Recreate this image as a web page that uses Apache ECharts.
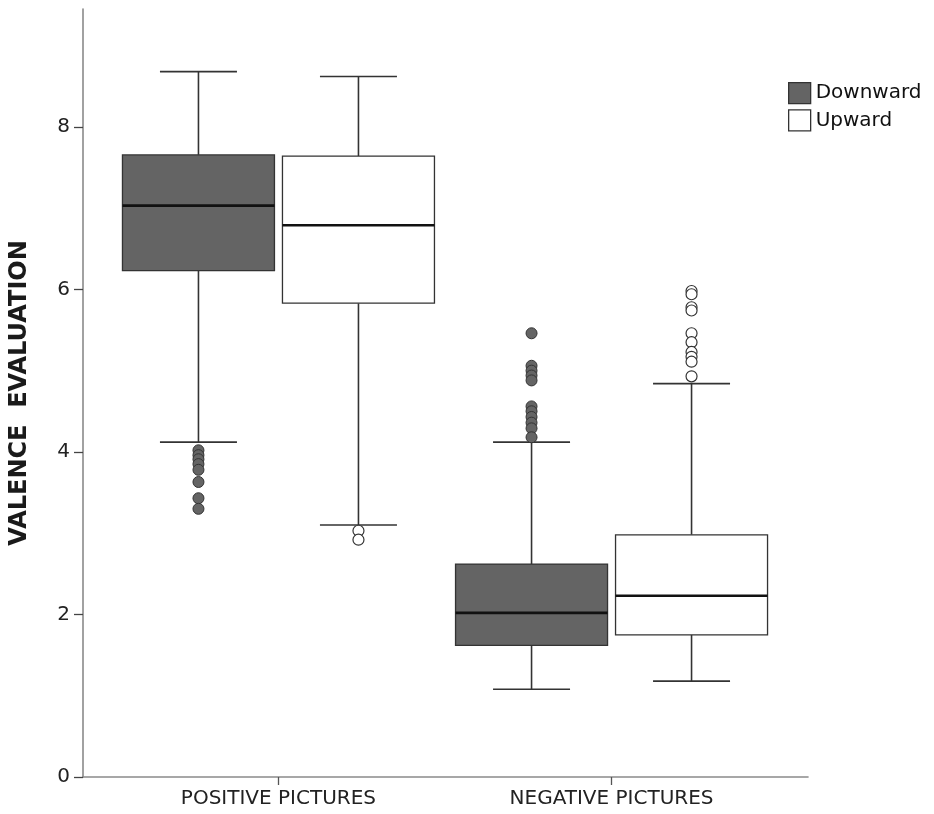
<!DOCTYPE html>
<html>
<head>
<meta charset="utf-8">
<title>Valence evaluation</title>
<script src="https://cdn.jsdelivr.net/npm/echarts@6/dist/echarts.min.js"></script>
<style>
  html, body { margin: 0; padding: 0; background: #fff; }
  #chart { width: 934px; height: 814px; }
</style>
</head>
<body>
<div id="chart"></div>
<script>
// categories on the x axis
const categories = ['POSITIVE PICTURES', 'NEGATIVE PICTURES'];
const groupNames = ['Downward', 'Upward'];
const yTicks = [0, 2, 4, 6, 8];

// box values per category: [lower whisker, Q1, median, Q3, upper whisker]
const downwardBoxes = [
  [4.12, 6.23, 7.03, 7.655, 8.68],
  [1.08, 1.62, 2.02, 2.62, 4.12]
];
const upwardBoxes = [
  [3.10, 5.83, 6.79, 7.64, 8.62],
  [1.18, 1.75, 2.23, 2.98, 4.84]
];

// outliers per category
const downwardOutliers = [
  [4.02, 3.96, 3.91, 3.85, 3.78, 3.63, 3.43, 3.30],
  [5.46, 5.06, 5.00, 4.94, 4.88, 4.56, 4.50, 4.43, 4.36, 4.29, 4.18]
];
const upwardOutliers = [
  [3.03, 2.92],
  [5.98, 5.94, 5.78, 5.74, 5.46, 5.35, 5.23, 5.17, 5.11, 4.93]
];

// layout (pixels)
const BOX_W = 152;
const CAP_W = 77;
const GROUP_OFFSET = [-80, 80];
const DARK_FILL = '#646464';
const LIGHT_FILL = '#ffffff';
const FONT = 'DejaVu Sans';

function boxRenderer(offset, fill) {
  return function (params, api) {
    const x = api.value(0);
    const cx = api.coord([x, 0])[0] + offset;
    const py = function (v) { return api.coord([x, v])[1]; };
    const lo = py(api.value(1));
    const q1 = py(api.value(2));
    const med = py(api.value(3));
    const q3 = py(api.value(4));
    const hi = py(api.value(5));
    const ln = { stroke: '#333', lineWidth: 1.6 };
    return {
      type: 'group',
      children: [
        { type: 'line', shape: { x1: cx, y1: hi, x2: cx, y2: q3 }, style: ln },
        { type: 'line', shape: { x1: cx, y1: q1, x2: cx, y2: lo }, style: ln },
        { type: 'line', shape: { x1: cx - CAP_W / 2, y1: hi, x2: cx + CAP_W / 2, y2: hi }, style: ln },
        { type: 'line', shape: { x1: cx - CAP_W / 2, y1: lo, x2: cx + CAP_W / 2, y2: lo }, style: ln },
        { type: 'rect', shape: { x: cx - BOX_W / 2, y: q3, width: BOX_W, height: q1 - q3 },
          style: { fill: fill, stroke: '#333', lineWidth: 1.3 } },
        { type: 'line', shape: { x1: cx - BOX_W / 2, y1: med, x2: cx + BOX_W / 2, y2: med },
          style: { stroke: '#111', lineWidth: 2.6 } }
      ]
    };
  };
}

function boxData(boxes) {
  return boxes.map(function (b, i) { return [i].concat(b); });
}
function outlierData(lists) {
  const out = [];
  lists.forEach(function (vals, i) {
    vals.forEach(function (v) { out.push([i, v]); });
  });
  return out;
}

const chart = echarts.init(document.getElementById('chart'));
chart.setOption({
  animation: false,
  backgroundColor: '#fff',
  textStyle: { fontFamily: FONT },
  grid: { left: 81, right: 126, top: 9, bottom: 37 },
  legend: {
    orient: 'vertical',
    left: 783,
    top: 77,
    itemWidth: 22,
    itemHeight: 21,
    itemGap: 5,
    selectedMode: false,
    textStyle: { fontSize: 20, color: '#111', fontFamily: FONT },
    data: [
      { name: groupNames[0], icon: 'rect', itemStyle: { color: DARK_FILL, borderColor: '#333', borderWidth: 1.3 } },
      { name: groupNames[1], icon: 'rect', itemStyle: { color: LIGHT_FILL, borderColor: '#333', borderWidth: 1.3 } }
    ]
  },
  xAxis: {
    type: 'value',
    min: -196 / 334,
    max: 1 + 197 / 334,
    splitLine: { show: false },
    axisLine: { show: true, onZero: false, lineStyle: { color: '#8a8a8a', width: 1.6 } },
    axisTick: { show: true, length: 8, customValues: [0, 1], lineStyle: { color: '#555', width: 1.3 } },
    axisLabel: {
      customValues: [0, 1],
      formatter: function (v) { return categories[Math.round(v)]; },
      fontSize: 20,
      color: '#222',
      margin: 12
    }
  },
  yAxis: {
    type: 'value',
    min: 0,
    max: 9.45,
    name: 'VALENCE  EVALUATION',
    nameLocation: 'middle',
    nameGap: 51,
    nameTextStyle: { fontSize: 24, fontWeight: 'bold', color: '#1a1a1a', fontFamily: FONT },
    splitLine: { show: false },
    axisLine: { show: true, onZero: false, lineStyle: { color: '#8a8a8a', width: 1.6 } },
    axisTick: { show: true, length: 9, customValues: yTicks, lineStyle: { color: '#444', width: 1.3 } },
    axisLabel: { customValues: yTicks, fontSize: 20, color: '#222', margin: 13 }
  },
  series: [
    {
      name: groupNames[0],
      type: 'custom',
      renderItem: boxRenderer(GROUP_OFFSET[0], DARK_FILL),
      itemStyle: { color: DARK_FILL },
      encode: { x: 0, y: [1, 2, 3, 4, 5] },
      data: boxData(downwardBoxes),
      z: 2
    },
    {
      name: groupNames[1],
      type: 'custom',
      renderItem: boxRenderer(GROUP_OFFSET[1], LIGHT_FILL),
      itemStyle: { color: LIGHT_FILL },
      encode: { x: 0, y: [1, 2, 3, 4, 5] },
      data: boxData(upwardBoxes),
      z: 2
    },
    {
      name: groupNames[0],
      type: 'scatter',
      symbol: 'circle',
      symbolSize: 11,
      symbolOffset: [GROUP_OFFSET[0], 0],
      itemStyle: { color: DARK_FILL, borderColor: '#333', borderWidth: 1, opacity: 1 },
      data: outlierData(downwardOutliers),
      z: 3
    },
    {
      name: groupNames[1],
      type: 'scatter',
      symbol: 'circle',
      symbolSize: 11,
      symbolOffset: [GROUP_OFFSET[1], 0],
      itemStyle: { color: LIGHT_FILL, borderColor: '#333', borderWidth: 1.2, opacity: 1 },
      data: outlierData(upwardOutliers),
      z: 3
    }
  ]
});
</script>
</body>
</html>
